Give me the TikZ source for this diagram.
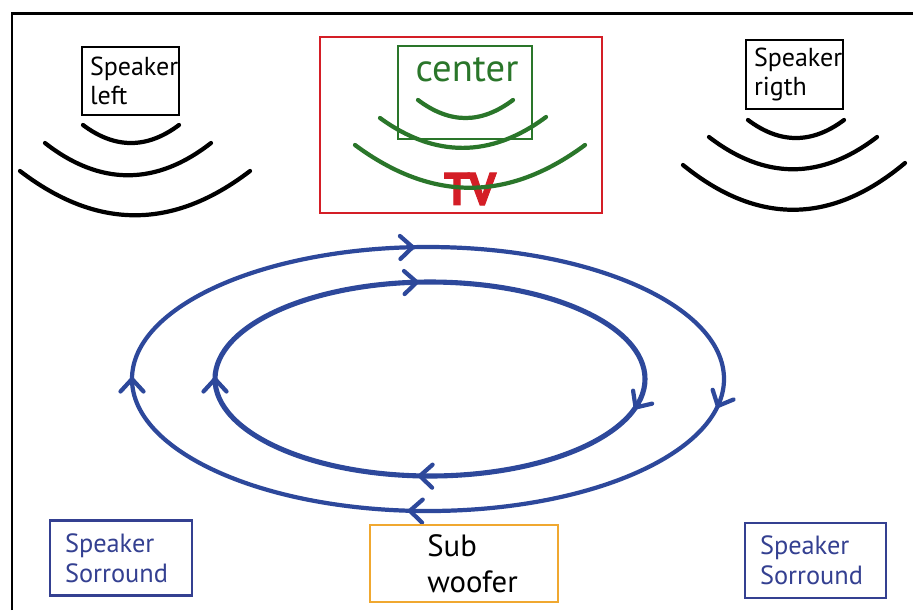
\documentclass[tikz,border=0pt]{standalone}
\usepackage{fontspec}
\setmainfont{PT Sans}
\usepackage{xcolor}
\usetikzlibrary{arrows.meta,decorations.markings,positioning}

\definecolor{ringblue}{RGB}{45,72,155}
\definecolor{boxblue}{RGB}{52,64,145}
\definecolor{tvred}{RGB}{212,30,38}
\definecolor{ctrgreen}{RGB}{42,118,42}
\definecolor{subor}{RGB}{240,168,48}

\tikzset{
  wave/.style={line width=2.4pt, line cap=round},
  spkbox/.style={draw, line width=1.5pt, align=left, inner sep=2pt,
    minimum width=1.94cm, text width=1.62cm, font=\fontsize{14.8}{16.5}\selectfont},
  surbox/.style={draw=boxblue, text=boxblue, line width=1.5pt, align=left, inner sep=2pt,
    minimum height=1.5cm, font=\fontsize{15}{17}\selectfont},
}
% chevron drawn along the ring
\newcommand{\ringtip}{\draw[ringblue, line width=2.4pt, line cap=round, line join=round]
    (-2.5mm,2.3mm) -- (0,0) -- (-2.5mm,-2.3mm);}

\begin{document}
\begin{tikzpicture}[x=0.02cm,y=-0.02cm]
    \useasboundingbox (0,0) rectangle (913,610);
    \fill[white] (0,0) rectangle (913,610);

    % frame
    \draw[line width=1.7pt] (12,610) -- (12,13) -- (913,13);

    % front left
    \node[spkbox, minimum height=1.36cm] (spkleft) at (130.5,81) {Speaker\\left};
    \draw[wave] (83,125) .. controls (115,149) and (147,149) .. (179,125);
    \draw[wave] (45,143) .. controls (100,186) and (156,186) .. (211,143);
    \draw[wave] (20,171) .. controls (97,230) and (173,230) .. (250,171);

    % front right
    \node[spkbox, minimum height=1.38cm] (spkright) at (794.5,74.5) {Speaker\\rigth};
    \draw[wave] (748,120) .. controls (780,144) and (812,144) .. (844,120);
    \draw[wave] (709,137) .. controls (765,180) and (821,180) .. (877,137);
    \draw[wave] (683,165) .. controls (757,225) and (831,225) .. (905,163);

    % TV and center
    \node[draw=tvred, line width=1.4pt, minimum width=5.64cm, minimum height=3.52cm] (tv) at (461,125) {};
    \node[text=tvred, font=\fontsize{26}{26}\bfseries\addfontfeature{FakeBold=2}] (tvtxt) at (470,189) {TV};
    \node[draw=ctrgreen, line width=1.4pt, minimum width=2.68cm, minimum height=1.86cm] (centerbox) at (465,92.5) {};
    \node[text=ctrgreen, font=\fontsize{22}{22}\selectfont] (centertxt) at (467,70) {center};
    \draw[wave, ctrgreen] (418,100) .. controls (450,124) and (481,124) .. (513,100);
    \draw[wave, ctrgreen] (380,118) .. controls (435,158) and (491,158) .. (546,117);
    \draw[wave, ctrgreen] (355,145) .. controls (432,202) and (508,202) .. (585,145);

    % surround rings
    \draw[ringblue, line width=2.4pt, postaction={decorate}, decoration={markings,
        mark=at position 0.02 with {\ringtip},
        mark=at position 0.263 with {\ringtip},
        mark=at position 0.5 with {\ringtip},
        mark=at position 0.739 with {\ringtip}}]
        (428,379) ellipse [x radius=296, y radius=132];
    \draw[ringblue, line width=2.9pt, postaction={decorate}, decoration={markings,
        mark=at position 0.03 with {\ringtip},
        mark=at position 0.26 with {\ringtip},
        mark=at position 0.5 with {\ringtip},
        mark=at position 0.737 with {\ringtip}}]
        (430,379) ellipse [x radius=215, y radius=97];

    % rear
    \node[surbox, minimum width=2.84cm, text width=2.24cm] (surleft) at (121,558) {Speaker\\Sorround};
    \node[surbox, minimum width=2.82cm, text width=2.22cm] (surright) at (815.5,560.5) {Speaker\\Sorround};
    \node[draw=subor, line width=1.5pt, minimum width=3.76cm, minimum height=1.54cm] (sub) at (464,563.5) {};
    \node[anchor=west, align=left, inner sep=0pt, font=\fontsize{17.5}{20.5}\selectfont] (subtxt) at (427,563.5) {Sub\\woofer};
\end{tikzpicture}
\end{document}
